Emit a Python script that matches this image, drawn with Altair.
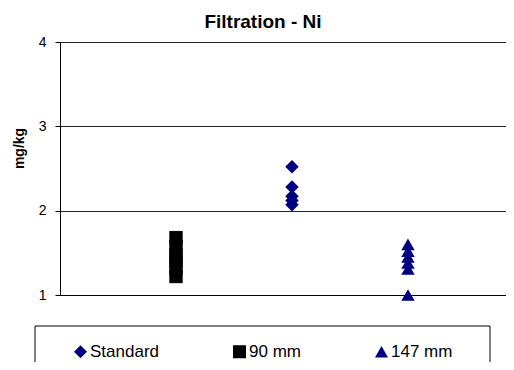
import altair as alt
import pandas as pd

series = ["Standard", "90 mm", "147 mm"]
x_pos = {"90 mm": 1, "Standard": 2, "147 mm": 3}
standard_vals = [2.52, 2.28, 2.17, 2.12, 2.07]
mm90_vals = [1.68, 1.57, 1.48, 1.40, 1.32, 1.22]
mm147_vals = [1.60, 1.52, 1.45, 1.38, 1.31, 1.00]

rows = []
for name, vals in [("Standard", standard_vals), ("90 mm", mm90_vals), ("147 mm", mm147_vals)]:
    for v in vals:
        rows.append({"series": name, "x": x_pos[name], "value": v})
df = pd.DataFrame(rows)

FONT = "Liberation Sans"

legend = alt.Legend(title=None, orient="none", legendX=12, legendY=301,
                    direction="horizontal", columns=3,
                    columnPadding=72, padding=0,
                    labelFont=FONT, labelFontSize=17, labelColor="#000000",
                    symbolSize=170, symbolStrokeWidth=0, labelOffset=1)

points = alt.Chart(df).mark_point(filled=True, opacity=1, size=180).encode(
    x=alt.X("x:Q", scale=alt.Scale(domain=[0, 3.845], nice=False, zero=False),
            axis=alt.Axis(labels=False, ticks=False, grid=False, title=None,
                          domainColor="#000000", domainWidth=1)),
    y=alt.Y("value:Q", scale=alt.Scale(domain=[1, 4], nice=False, zero=False),
            axis=alt.Axis(values=[1, 2, 3, 4], title="mg/kg", grid=True,
                          gridColor="#222222", gridWidth=1,
                          domainColor="#000000", tickColor="#000000", tickSize=5,
                          labelPadding=9, labelFontSize=14, labelColor="#000000",
                          labelFont=FONT, titleFont=FONT, titleFontSize=14,
                          titleFontWeight="bold", titleColor="#000000",
                          titleX=-41, titleY=106, titleBaseline="middle")),
    shape=alt.Shape("series:N", scale=alt.Scale(domain=series,
                    range=["diamond", "square", "triangle-up"]), legend=legend),
    color=alt.Color("series:N", scale=alt.Scale(domain=series,
                    range=["#000080", "#000000", "#000080"]), legend=legend),
)

legend_box = alt.Chart(pd.DataFrame({"k": [0]})).mark_rect(
    filled=False, stroke="#000000", strokeWidth=1
).encode(
    x=alt.value(-25), x2=alt.value(430), y=alt.value(284), y2=alt.value(345)
)

chart = alt.layer(points, legend_box).properties(
    width=446, height=253,
    title=alt.TitleParams("Filtration - Ni", font=FONT, fontSize=19, fontWeight="bold",
                          color="#000000", anchor="middle", frame="group",
                          offset=3, dx=-20),
    autosize=alt.AutoSizeParams(type="none"),
    padding={"left": 52, "top": 34, "right": 0, "bottom": 67},
).configure_view(stroke=None)

chart.save("out.html", embed_options={"renderer": "svg", "actions": False})
